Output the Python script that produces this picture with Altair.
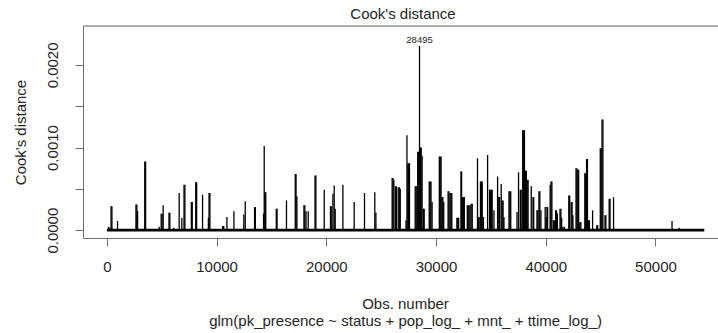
import altair as alt
import pandas as pd

# ---- data ----
obs_number = [
    150, 250, 380, 460, 970, 2650, 2730, 2800, 3450, 3530, 4770,
    4950, 5030, 5130, 5660, 5740, 6100, 6590, 6830, 7030, 7110, 7700, 7780,
    8100, 8180, 8720, 9250, 9310, 9390, 10550, 10650, 10940, 11580, 12480, 12610,
    13460, 13530, 14280, 14340, 14410, 14480, 15440, 15510, 16370,
    17170, 17240, 17320, 17960, 18040, 18150, 18350, 18970, 19050, 19810,
    20380, 20450, 20600, 20720, 20810, 21510, 22540, 23480, 24420, 24520,
    26000, 26080, 26160, 26300, 26380, 26550, 26650, 26740,
    27260, 27350, 27430, 27500, 27580,
    28100, 28180, 28260, 28330, 28420, 28495, 28570, 28650, 28730, 28850, 28920,
    29380, 29460, 29540, 29640,
    30300, 30380, 30460, 30540, 30620, 30700,
    31100, 31180, 31280, 31360, 31440, 31900, 31980, 32060,
    32270, 32330, 32420, 32500, 32580,
    32850, 32930, 33010, 33100, 33200, 33300,
    33780, 33850, 33930, 34050, 34130, 34210, 34320, 34700,
    34880, 34960, 35040, 35120, 35280,
    35610, 35720, 35800, 35940, 36030, 36110, 36190,
    36650, 36730, 36810, 37380, 37520, 37680, 37760,
    37900, 37980, 38060, 38150, 38230, 38310, 38390,
    38680, 38840, 38900, 39200, 39280, 39380, 39460, 39560,
    39950, 40030, 40110, 40170, 40400, 40480, 40560, 40700, 40780,
    40900, 40980, 41060, 41300, 41380, 41450, 41560, 41700,
    42100, 42180, 42320, 42400, 42480, 42760, 42840, 42920, 43000, 43100, 43200,
    43560, 43640, 43720, 43800, 43900, 43980, 44270, 44650, 44730,
    44970, 45050, 45130, 45210, 45400, 45480, 45780, 45860, 46180,
    51510, 52170,
]
cooks_d = [
    0.00004, 0.00003, 0.00029, 0.00029, 0.00011, 0.00031, 0.00031, 0.00023, 0.00083, 0.00083, 0.00004,
    0.00020, 0.00020, 0.00030, 0.00021, 0.00021, 0.00003, 0.00045, 0.00015, 0.00055, 0.00055, 0.00034, 0.00034,
    0.00058, 0.00058, 0.00043, 0.00015, 0.00045, 0.00045, 0.00005, 0.00005, 0.00016, 0.00023, 0.00019, 0.00035,
    0.00028, 0.00028, 0.00020, 0.00102, 0.00046, 0.00046, 0.00026, 0.00026, 0.00036,
    0.00068, 0.00068, 0.00041, 0.00030, 0.00030, 0.00023, 0.00023, 0.00066, 0.00066, 0.00049,
    0.00029, 0.00029, 0.00044, 0.00054, 0.00026, 0.00055, 0.00034, 0.00045, 0.00046, 0.00021,
    0.00063, 0.00063, 0.00061, 0.00053, 0.00053, 0.00052, 0.00052, 0.00050,
    0.00012, 0.00115, 0.00081, 0.00081, 0.00081,
    0.00053, 0.00053, 0.00053, 0.00095, 0.00095, 0.00223, 0.00100, 0.00100, 0.00090, 0.00026, 0.00026,
    0.00059, 0.00059, 0.00059, 0.00034,
    0.00089, 0.00089, 0.00089, 0.00040, 0.00040, 0.00034,
    0.00047, 0.00047, 0.00045, 0.00045, 0.00045, 0.00015, 0.00015, 0.00015,
    0.00071, 0.00071, 0.00040, 0.00040, 0.00040,
    0.00030, 0.00030, 0.00030, 0.00030, 0.00032, 0.00032,
    0.00087, 0.00016, 0.00016, 0.00059, 0.00059, 0.00059, 0.00016, 0.00091,
    0.00049, 0.00049, 0.00049, 0.00049, 0.00024,
    0.00065, 0.00040, 0.00040, 0.00056, 0.00036, 0.00036, 0.00016,
    0.00047, 0.00047, 0.00047, 0.00022, 0.00070, 0.00049, 0.00049,
    0.00121, 0.00121, 0.00121, 0.00072, 0.00072, 0.00061, 0.00061,
    0.00053, 0.00040, 0.00040, 0.00024, 0.00024, 0.00047, 0.00047, 0.00024,
    0.00028, 0.00016, 0.00028, 0.00028, 0.00055, 0.00059, 0.00059, 0.00012, 0.00012,
    0.00024, 0.00024, 0.00020, 0.00026, 0.00026, 0.00015, 0.00004, 0.00004,
    0.00042, 0.00042, 0.00034, 0.00034, 0.00018, 0.00075, 0.00075, 0.00073, 0.00073, 0.00010, 0.00010,
    0.00069, 0.00069, 0.00086, 0.00086, 0.00012, 0.00012, 0.00024, 0.00006, 0.00006,
    0.00099, 0.00099, 0.00134, 0.00134, 0.00018, 0.00018, 0.00038, 0.00038, 0.00040,
    0.00011, 0.00003,
]
n_obs = 54450
labelled_obs = [28495]
x_ticks = [0, 10000, 20000, 30000, 40000, 50000]
y_ticks = [0.0, 0.0005, 0.0010, 0.0015, 0.0020]
main_title = "Cook's distance"
x_title = ["Obs. number", "glm(pk_presence ~ status + pop_log_ + mnt_ + ttime_log_)"]
y_title = "Cook's distance"

# ---- tables built from the lists ----
spikes = pd.DataFrame({"obs": obs_number, "cook": cooks_d, "zero": [0.0] * len(obs_number)})
baseline = pd.DataFrame({"start": [1], "end": [n_obs], "cook": [0.0]})
labels = spikes[spikes["obs"].isin(labelled_obs)].assign(label=lambda d: d["obs"].astype(str))
title_df = pd.DataFrame({"title": [main_title]})

FONT = "Liberation Sans"
TXT = "#262626"
LINE = "#6e6e6e"
W, H = 635, 212

x_scale = alt.Scale(domain=[-2177, 55700], nice=False, zero=False)
y_scale = alt.Scale(domain=[-0.000095, 0.002471], nice=False, zero=False)

x_axis = alt.Axis(
    values=x_ticks, format="d", grid=False, title=x_title,
    domainColor=LINE, tickColor=LINE, tickSize=8, labelPadding=25.5,
    labelBaseline="alphabetic", labelFontSize=15, labelColor=TXT, labelFont=FONT,
    labelOverlap=False, labelFlush=False,
    titleFont=FONT, titleFontSize=15, titleFontWeight="normal", titleColor=TXT,
    titleBaseline="alphabetic", titleAlign="center", titleX=322, titleY=70.3,
    titleLineHeight=17.3,
)
y_axis = alt.Axis(
    values=y_ticks, grid=False, title=y_title,
    labelExpr="round(datum.value * 2000) % 2 == 0 ? format(datum.value, '.4f') : ''",
    domainColor=LINE, tickColor=LINE, tickSize=8, labelPadding=18,
    labelAngle=270, labelAlign="center", labelBaseline="alphabetic",
    labelFontSize=15, labelColor=TXT, labelFont=FONT, labelOverlap=False, labelFlush=False,
    titleFont=FONT, titleFontSize=15, titleFontWeight="normal", titleColor=TXT,
    titleAngle=270, titleBaseline="alphabetic", titleAlign="center", titleX=-58, titleY=106,
)

spike_layer = alt.Chart(spikes).mark_rule(color="black", strokeWidth=1.3).encode(
    x=alt.X("obs:Q", scale=x_scale, axis=x_axis),
    y=alt.Y("zero:Q", scale=y_scale, axis=y_axis),
    y2="cook:Q",
)
base_layer = alt.Chart(baseline).mark_rule(color="black", strokeWidth=2.6).encode(
    x=alt.X("start:Q", scale=x_scale),
    x2="end:Q",
    y=alt.Y("cook:Q", scale=y_scale),
)
label_layer = alt.Chart(labels).mark_text(
    font=FONT, fontSize=9.5, color=TXT, baseline="alphabetic", dy=-2.5
).encode(
    x=alt.X("obs:Q", scale=x_scale),
    y=alt.Y("cook:Q", scale=y_scale),
    text="label:N",
)
top_frame = alt.Chart(baseline).mark_rule(color=LINE, strokeWidth=1).encode(
    x=alt.value(0), x2=alt.value(W), y=alt.value(0)
)
title_layer = alt.Chart(title_df).mark_text(
    font=FONT, fontSize=15, color=TXT, baseline="alphabetic", align="center"
).encode(x=alt.value(320), y=alt.value(-6.7), text="title:N")

chart = alt.layer(base_layer, spike_layer, label_layer, top_frame, title_layer).properties(
    width=W, height=H,
    autosize=alt.AutoSizeParams(type="none"),
    padding={"left": 83, "top": 26, "right": 0, "bottom": 95},
).configure_view(stroke=None).configure(background="white")

chart.save("out.html", embed_options={"renderer": "svg", "actions": False})
